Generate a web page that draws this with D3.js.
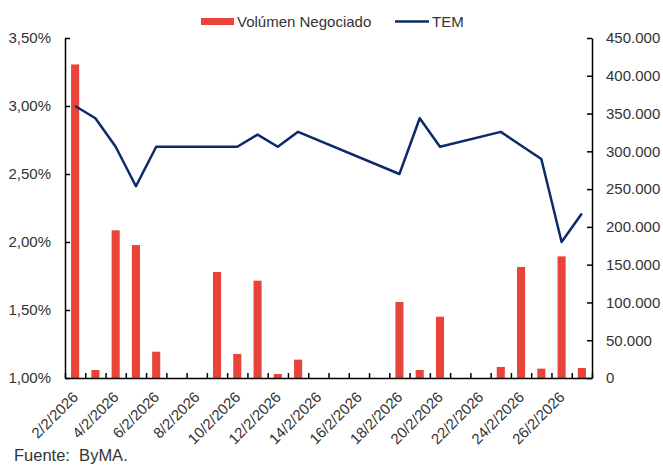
<html>
<head>
<meta charset="utf-8">
<script src="https://d3js.org/d3.v7.min.js"></script>
<style>
  body { margin: 0; background: #fff; }
  text { font-family: "Liberation Sans", Arial, sans-serif; fill: #333; }
</style>
</head>
<body>
<svg width="663" height="465"></svg>
<script>
// datos
var fechas = ["2/2/2026","3/2/2026","4/2/2026","5/2/2026","6/2/2026","7/2/2026","8/2/2026",
  "9/2/2026","10/2/2026","11/2/2026","12/2/2026","13/2/2026","14/2/2026","15/2/2026",
  "16/2/2026","17/2/2026","18/2/2026","19/2/2026","20/2/2026","21/2/2026","22/2/2026",
  "23/2/2026","24/2/2026","25/2/2026","26/2/2026","27/2/2026"];
var volumen = [415000, 10600, 195500, 176000, 34800, null, null,
  140300, 31800, 128800, 5300, 24300, null, null,
  null, null, 100600, 10600, 81200, null, null,
  14600, 146900, 12400, 161000, 13200];
var tem = [3.00, 2.91, 2.70, 2.41, 2.70, null, null,
  2.70, 2.70, 2.79, 2.70, 2.81, null, null,
  null, null, 2.50, 2.91, 2.70, null, null,
  2.81, 2.71, 2.61, 2.00, 2.21];
var ticksTem = [1.0, 1.5, 2.0, 2.5, 3.0, 3.5];
var ticksVol = [0, 50000, 100000, 150000, 200000, 250000, 300000, 350000, 400000, 450000];

var mLeft = 65, mRight = 592, mTop = 38, mBottom = 378;
var svg = d3.select("svg");

var x = d3.scaleBand().domain(fechas).range([mLeft, mRight]).paddingInner(0.6).paddingOuter(0.3);
var xb = d3.scaleLinear().domain([0, fechas.length]).range([mLeft, mRight]);
var yL = d3.scaleLinear().domain([1, 3.5]).range([mBottom, mTop]);
var yR = d3.scaleLinear().domain([0, 450000]).range([mBottom, mTop]);

var es = d3.formatLocale({decimal: ",", thousands: ".", grouping: [3], currency: ["$", ""]});
var fmtVol = es.format(",.0f");
var fmtTem = function(d) { return d.toFixed(2).replace(".", ",") + "%"; };

// barras
svg.append("g").selectAll("rect")
  .data(fechas.map(function(f, i) { return {f: f, v: volumen[i]}; }).filter(function(d) { return d.v != null; }))
  .enter().append("rect")
  .attr("x", function(d) { return x(d.f); })
  .attr("width", x.bandwidth())
  .attr("y", function(d) { return yR(d.v); })
  .attr("height", function(d) { return yR(0) - yR(d.v); })
  .attr("fill", "#e8443a");

// linea TEM
var pts = fechas.map(function(f, i) { return {f: f, v: tem[i]}; }).filter(function(d) { return d.v != null; });
svg.append("path")
  .datum(pts)
  .attr("fill", "none")
  .attr("stroke", "#0c2a6a")
  .attr("stroke-width", 2.5)
  .attr("stroke-linejoin", "round")
  .attr("d", d3.line()
    .x(function(d) { return x(d.f) + x.bandwidth() / 2; })
    .y(function(d) { return yL(d.v); }));

// ejes
var gL = svg.append("g").attr("transform", "translate(" + mLeft + ",0)")
  .call(d3.axisLeft(yL).tickValues(ticksTem).tickFormat(fmtTem).tickSizeInner(-5).tickSizeOuter(0).tickPadding(14));
var gR = svg.append("g").attr("transform", "translate(" + mRight + ",0)")
  .call(d3.axisRight(yR).tickValues(ticksVol).tickFormat(fmtVol).tickSizeInner(-5).tickSizeOuter(0).tickPadding(14));
var gX = svg.append("g").attr("transform", "translate(0," + mBottom + ")")
  .call(d3.axisBottom(xb).tickValues(d3.range(0, fechas.length + 1)).tickFormat("").tickSizeInner(-5).tickSizeOuter(0));

[gL, gR, gX].forEach(function(g) {
  g.selectAll("path.domain").attr("stroke", "#000").attr("stroke-width", 1.5);
  g.selectAll(".tick line").attr("stroke", "#000").attr("stroke-width", 1.5);
  g.selectAll(".tick text").style("font-size", "15px").attr("fill", "#333")
    .style("font-family", "'Liberation Sans', Arial, sans-serif");
});

// etiquetas del eje x
svg.append("g").selectAll("text")
  .data(fechas.filter(function(f, i) { return i % 2 == 0; }))
  .enter().append("text")
  .attr("transform", function(d) { return "translate(" + (x(d) + x.bandwidth() / 2 + 4) + ",398) rotate(-45)"; })
  .attr("text-anchor", "end")
  .style("font-size", "15px")
  .text(function(d) { return d; });

// leyenda
var leg = svg.append("g");
leg.append("rect").attr("x", 201).attr("y", 18).attr("width", 33).attr("height", 7).attr("fill", "#e8443a");
leg.append("text").attr("x", 237).attr("y", 26.5).style("font-size", "15px").text("Volúmen Negociado");
leg.append("line").attr("x1", 395).attr("x2", 429).attr("y1", 21.5).attr("y2", 21.5)
  .attr("stroke", "#0c2a6a").attr("stroke-width", 2.5);
leg.append("text").attr("x", 432).attr("y", 26.5).style("font-size", "15px").text("TEM");

// fuente
svg.append("text").attr("x", 14).attr("y", 461).style("font-size", "16.5px")
  .style("white-space", "pre").text("Fuente:  ByMA.");
</script>
</body>
</html>
